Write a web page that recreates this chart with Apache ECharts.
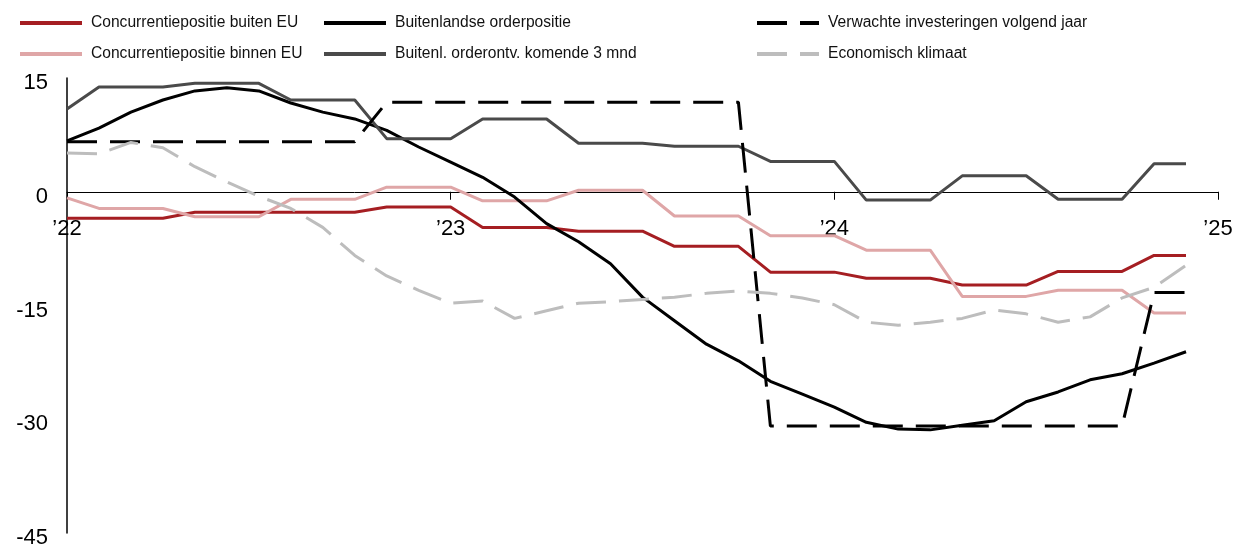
<!DOCTYPE html>
<html>
<head>
<meta charset="utf-8">
<script src="https://cdn.jsdelivr.net/npm/echarts@6/dist/echarts.min.js"></script>
<style>
  html, body { margin: 0; padding: 0; background: #fff; }
  #chart { width: 1239px; height: 544px; }
</style>
</head>
<body>
<div id="chart"></div>
<script>
var myChart = echarts.init(document.getElementById('chart'));

// maanden jan 2022 t/m dec 2024 (index 0..35), jaartikken elke 12 maanden
var yearLabels = ['\u201922', '\u201923', '\u201924', '\u201925'];
var yMin = -45, yMax = 15;

var buitenEU = [-3.5, -3.5, -3.5, -3.5, -2.7, -2.7, -2.7, -2.7, -2.7, -2.7, -2.0, -2.0,
    -2.0, -4.7, -4.7, -4.7, -5.2, -5.2, -5.2, -7.2, -7.2, -7.2, -10.6, -10.6,
    -10.6, -11.4, -11.4, -11.4, -12.3, -12.3, -12.3, -10.5, -10.5, -10.5, -8.4, -8.4];

var binnenEU = [-0.8, -2.2, -2.2, -2.2, -3.3, -3.3, -3.3, -1.0, -1.0, -1.0, 0.6, 0.6,
    0.6, -1.2, -1.2, -1.2, 0.2, 0.2, 0.2, -3.2, -3.2, -3.2, -5.8, -5.8,
    -5.8, -7.7, -7.7, -7.7, -13.8, -13.8, -13.8, -13.0, -13.0, -13.0, -16.0, -16.0];

var orderpositie = [6.7, 8.4, 10.5, 12.1, 13.3, 13.7, 13.3, 11.7, 10.5, 9.6, 8.1, 5.9,
    3.9, 1.9, -0.7, -4.2, -6.6, -9.5, -13.9, -17.0, -20.1, -22.3, -25.0, -26.7,
    -28.4, -30.4, -31.3, -31.4, -30.8, -30.2, -27.7, -26.4, -24.8, -24.0, -22.6, -21.1];

var orderontvangst = [10.9, 13.8, 13.8, 13.8, 14.3, 14.3, 14.3, 12.1, 12.1, 12.1, 7.0, 7.0,
    7.0, 9.6, 9.6, 9.6, 6.4, 6.4, 6.4, 6.0, 6.0, 6.0, 4.0, 4.0,
    4.0, -1.1, -1.1, -1.1, 2.1, 2.1, 2.1, -1.0, -1.0, -1.0, 3.7, 3.7];

var investeringen = [6.6, 6.6, 6.6, 6.6, 6.6, 6.6, 6.6, 6.6, 6.6, 6.6, 11.8, 11.8,
    11.8, 11.8, 11.8, 11.8, 11.8, 11.8, 11.8, 11.8, 11.8, 11.8, -30.9, -30.9,
    -30.9, -30.9, -30.9, -30.9, -30.9, -30.9, -30.9, -30.9, -30.9, -30.9, -13.3, -13.3];

var klimaat = [5.1, 5.0, 6.5, 5.8, 3.3, 1.3, -0.6, -2.2, -4.7, -8.4, -11.1, -13.0,
    -14.7, -14.4, -16.7, -15.7, -14.7, -14.5, -14.2, -13.9, -13.4, -13.1, -13.4, -14.0,
    -14.9, -17.2, -17.6, -17.2, -16.7, -15.6, -16.1, -17.2, -16.5, -14.0, -12.6, -9.7];

var toPoints = function (values) {
    return values.map(function (v, i) { return [i, v]; });
};

var makeLine = function (name, values, color, dashed) {
    return {
        name: name,
        type: 'line',
        data: toPoints(values),
        symbol: 'none',
        animation: false,
        lineStyle: {
            color: color,
            width: 3,
            type: dashed ? [30, 13] : 'solid',
            cap: 'butt'
        },
        itemStyle: { color: color }
    };
};

var gridTop = 78, gridBottom = 11;
var gridHeight = 544 - gridTop - gridBottom;
// x-as ligt op de nullijn, labels eronder
var zeroOffset = -gridHeight * (0 - yMin) / (yMax - yMin);

var legendBase = {
    orient: 'vertical',
    top: 15,
    padding: 0,
    itemWidth: 62,
    itemHeight: 14,
    itemGap: 15,
    itemStyle: { opacity: 0 },
    lineStyle: { width: 4 },
    textStyle: {
        fontFamily: 'Liberation Sans',
        fontSize: 15.6,
        color: '#111',
        padding: [0, 0, 0, 4]
    }
};

option = {
    backgroundColor: '#fff',
    textStyle: { fontFamily: 'Liberation Sans' },
    legend: [
        Object.assign({}, legendBase, { left: 18, data: ['Concurrentiepositie buiten EU', 'Concurrentiepositie binnen EU'] }),
        Object.assign({}, legendBase, { left: 322, data: ['Buitenlandse orderpositie', 'Buitenl. orderontv. komende 3 mnd'] }),
        Object.assign({}, legendBase, { left: 755, data: ['Verwachte investeringen volgend jaar', 'Economisch klimaat'] })
    ],
    grid: {
        left: 67,
        right: 21,
        top: gridTop,
        bottom: gridBottom,
        containLabel: false,
        outerBoundsMode: 'none'
    },
    xAxis: {
        type: 'value',
        min: 0,
        max: 36,
        interval: 12,
        position: 'bottom',
        offset: zeroOffset,
        axisLine: { onZero: false, lineStyle: { color: '#000', width: 1 } },
        axisTick: { show: true, length: 8, lineStyle: { color: '#000' } },
        axisLabel: {
            margin: 26,
            fontSize: 22,
            color: '#000',
            formatter: function (v) { return yearLabels[v / 12]; }
        },
        splitLine: { show: false }
    },
    yAxis: {
        type: 'value',
        min: yMin,
        max: yMax,
        interval: 15,
        axisLine: { show: true, onZero: false, lineStyle: { color: '#000', width: 1.5 } },
        axisTick: { show: false },
        axisLabel: {
            margin: 19,
            color: '#000',
            formatter: function (v) { return '{v|' + v + '}'; },
            rich: {
                v: { fontSize: 22, color: '#000', padding: [10, 0, 0, 0] }
            }
        },
        splitLine: { show: false }
    },
    series: [
        makeLine('Concurrentiepositie buiten EU', buitenEU, '#a51e22', false),
        makeLine('Concurrentiepositie binnen EU', binnenEU, '#dfa6a7', false),
        makeLine('Buitenlandse orderpositie', orderpositie, '#000000', false),
        makeLine('Buitenl. orderontv. komende 3 mnd', orderontvangst, '#4a4a4a', false),
        makeLine('Verwachte investeringen volgend jaar', investeringen, '#000000', true),
        makeLine('Economisch klimaat', klimaat, '#bdbdbd', true)
    ]
};
myChart.setOption(option);
</script>
</body>
</html>
